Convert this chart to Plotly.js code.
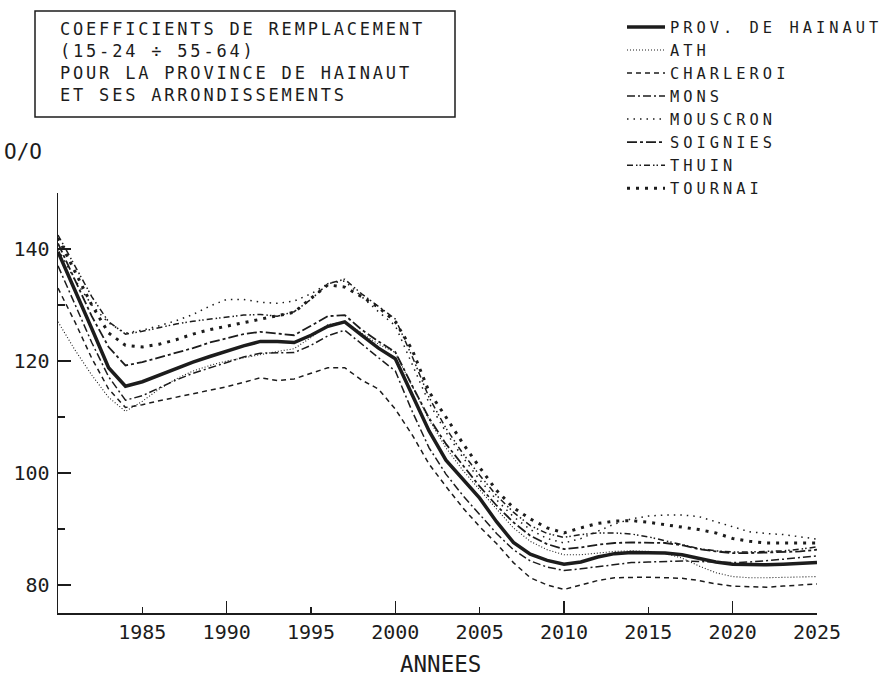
<!DOCTYPE html>
<html>
<head>
<meta charset="utf-8">
<script src="https://cdn.plot.ly/plotly-3.0.1.min.js"></script>
<style>
html,body{margin:0;padding:0;background:#fff;}
#chart{width:889px;height:680px;}
.legendtext{letter-spacing:4px;}
.annotation[data-index="0"] text{letter-spacing:2.8px;}
</style>
</head>
<body>
<div id="chart"></div>
<script>
// ---------- DATA ----------
const YEARS = [1980,1981,1982,1983,1984,1985,1986,1987,1988,1989,
               1990,1991,1992,1993,1994,1995,1996,1997,1998,1999,
               2000,2001,2002,2003,2004,2005,2006,2007,2008,2009,
               2010,2011,2012,2013,2014,2015,2016,2017,2018,2019,
               2020,2021,2022,2023,2024,2025];

const PROV_HAINAUT = [139.5,132.8,125.8,118.8,115.5,116.3,117.5,118.7,119.8,120.8,
                      121.8,122.7,123.5,123.5,123.3,124.6,126.2,127.0,124.6,122.3,
                      120.4,113.8,107.5,102.3,99.0,95.5,91.3,87.6,85.5,84.4,
                      83.7,84.1,85.0,85.6,85.8,85.8,85.7,85.4,84.8,84.1,
                      83.7,83.6,83.6,83.7,83.9,84.0];

const ATH = [127.0,122.0,117.5,113.5,111.0,112.8,115.0,116.8,118.2,119.2,
             120.0,120.6,121.2,121.7,122.2,124.2,126.5,127.0,125.0,123.0,
             121.5,115.5,109.5,104.5,100.5,97.0,93.5,90.2,87.8,86.3,
             85.4,85.4,85.7,86.0,86.1,86.0,85.6,84.8,83.4,82.2,
             81.5,81.3,81.3,81.4,81.5,81.5];

const CHARLEROI = [133.0,127.0,120.5,115.0,111.7,112.2,112.9,113.5,114.2,114.8,
                   115.4,116.2,117.0,116.5,116.8,117.8,118.8,118.8,116.6,115.0,
                   111.4,106.8,101.6,97.6,93.8,90.4,87.4,84.0,81.3,80.0,
                   79.2,80.0,80.8,81.3,81.4,81.4,81.3,81.2,80.8,80.2,
                   79.8,79.7,79.6,79.8,80.0,80.2];

const MONS = [137.0,130.0,123.3,117.2,113.0,113.8,115.2,116.6,117.8,118.8,
              119.8,120.7,121.4,121.4,121.5,122.8,124.5,125.5,123.0,120.6,
              118.2,111.0,104.5,99.8,96.0,92.5,89.2,86.3,84.3,83.2,
              82.6,82.9,83.3,83.7,84.0,84.1,84.2,84.3,84.2,84.1,
              84.0,84.1,84.3,84.6,84.9,85.2];

const MOUSCRON = [140.0,134.5,130.0,126.8,125.0,125.5,126.3,127.2,128.3,129.8,
                  131.0,131.0,130.5,130.3,130.7,132.0,133.8,134.3,131.5,128.8,
                  126.3,119.5,112.5,107.3,102.8,98.8,95.2,92.2,89.9,88.3,
                  87.5,88.3,89.6,90.9,91.8,92.3,92.5,92.5,92.2,91.3,
                  90.3,89.5,89.2,89.0,88.6,88.2];

const SOIGNIES = [141.0,134.5,128.0,122.5,119.2,119.8,120.6,121.4,122.3,123.3,
                  124.1,124.8,125.2,124.9,124.6,126.3,128.0,128.2,125.6,123.5,
                  121.6,115.6,109.8,105.2,101.3,97.6,94.2,91.2,88.8,87.3,
                  86.4,86.7,87.2,87.5,87.6,87.6,87.5,87.1,86.4,86.0,
                  85.7,85.7,85.8,85.9,86.0,86.3];

const THUIN = [142.5,137.0,131.5,127.0,124.8,125.3,126.0,126.6,127.1,127.5,
               127.8,128.2,128.3,128.0,128.8,131.0,133.8,134.6,132.0,129.8,
               127.5,120.8,113.5,108.0,103.5,99.6,96.0,93.0,90.6,89.2,
               88.5,89.0,89.3,89.3,89.1,88.6,87.9,87.1,86.5,86.1,
               85.9,85.9,86.0,86.1,86.4,86.8];

const TOURNAI = [142.0,136.0,130.0,125.0,122.8,122.5,123.0,123.8,124.8,125.6,
                 126.2,126.8,127.4,128.0,128.7,131.2,133.6,133.2,131.5,129.6,
                 127.0,122.0,114.5,110.0,105.3,101.0,96.9,93.8,91.8,90.2,
                 89.3,90.2,91.0,91.4,91.5,91.2,90.8,90.4,89.9,89.3,
                 88.3,87.8,87.5,87.5,87.5,87.5];

const SERIES_NAMES = ['PROV. DE HAINAUT','ATH','CHARLEROI','MONS','MOUSCRON','SOIGNIES','THUIN','TOURNAI'];
const SERIES_VALUES = [PROV_HAINAUT, ATH, CHARLEROI, MONS, MOUSCRON, SOIGNIES, THUIN, TOURNAI];

const X_TICKS = [1985,1990,1995,2000,2005,2010,2015,2020,2025];
const X_TICK_LABELS = ['1985','1990','1995','2000','2005','2010','2015','2020','2025'];
const X_MAJOR_TICKS = [1990,2000,2010,2020];
const Y_TICKS = [80,100,120,140];
const Y_TICK_LABELS = ['80','100','120','140'];
const Y_MINOR_TICKS = [90,110,130,150];

const TITLE_LINES = ['COEFFICIENTS DE REMPLACEMENT','(15-24 ÷ 55-64)','POUR LA PROVINCE DE HAINAUT','ET SES ARRONDISSEMENTS'];
const X_TITLE = 'ANNEES';
const Y_TITLE = 'O/O';

// ---------- STYLE ----------
const INK = '#1c1c1c';
const FONT = 'DejaVu Sans Mono, Liberation Mono, monospace';
const LINE_STYLES = [
  {width:3.5, dash:'solid'},
  {width:1.1, dash:'1px,2px'},
  {width:1.5, dash:'5px,4px'},
  {width:1.5, dash:'8px,3px,2px,3px'},
  {width:1.5, dash:'1.5px,5px'},
  {width:1.8, dash:'10px,3px,3px,3px'},
  {width:1.5, dash:'6px,3px,1.5px,2px,1.5px,3px'},
  {width:3, dash:'3px,6px'}
];

// plot area in pixels
const L = 58, R = 817, T = 193, B = 613;
const px = x => (x - L) / (R - L);
const py = y => (B - y) / (B - T);

const traces = SERIES_NAMES.map((name, i) => ({
  type: 'scatter',
  mode: 'lines',
  name: name,
  x: YEARS,
  y: SERIES_VALUES[i],
  xaxis: i === 0 ? 'x2' : 'x',
  yaxis: 'y',
  line: {color: INK, width: LINE_STYLES[i].width, dash: LINE_STYLES[i].dash},
  hoverinfo: 'skip'
}));

const layout = {
  width: 889, height: 680,
  paper_bgcolor: '#fff', plot_bgcolor: '#fff',
  margin: {l: L, r: 889 - R, t: T, b: 680 - B, autoexpand: false},
  font: {family: FONT, color: INK, size: 20},
  showlegend: true,
  legend: {
    x: px(622), y: py(10.5), xanchor: 'left', yanchor: 'top',
    font: {family: FONT, size: 15.4, color: INK},
    itemwidth: 38, bgcolor: 'rgba(0,0,0,0)', borderwidth: 0,
    traceorder: 'normal'
  },
  xaxis: {
    range: [1980, 2025], tickmode: 'array', tickvals: X_TICKS, ticktext: X_TICK_LABELS,
    ticks: 'inside', ticklen: 6, tickwidth: 1.2, tickcolor: INK,
    showline: true, linecolor: INK, linewidth: 1.5,
    showgrid: false, zeroline: false,
    tickfont: {family: FONT, size: 20, color: INK},
    fixedrange: true
  },
  xaxis2: {
    overlaying: 'x', anchor: 'y', side: 'bottom',
    range: [1980, 2025], tickmode: 'array', tickvals: X_MAJOR_TICKS,
    ticks: 'inside', ticklen: 12, tickwidth: 1.2, tickcolor: INK,
    showticklabels: false, showline: false, showgrid: false, zeroline: false,
    fixedrange: true
  },
  yaxis: {
    range: [75, 150], tickmode: 'array', tickvals: Y_TICKS, ticktext: Y_TICK_LABELS,
    ticks: 'inside', ticklen: 13, tickwidth: 1.2, tickcolor: INK,
    minor: {tickmode: 'array', tickvals: Y_MINOR_TICKS, ticks: 'inside', ticklen: 7, tickwidth: 1.2, tickcolor: INK},
    showline: true, linecolor: INK, linewidth: 1.5,
    showgrid: false, zeroline: false,
    tickfont: {family: FONT, size: 20, color: INK},
    ticklabelstandoff: 3,
    fixedrange: true
  },
  annotations: [{
    text: TITLE_LINES.join('<br>'),
    xref: 'paper', yref: 'paper',
    x: px(58), y: py(62),
    xanchor: 'left', yanchor: 'middle', align: 'left',
    showarrow: false,
    font: {family: FONT, size: 17, color: INK}
  }, {
    text: Y_TITLE, xref: 'paper', yref: 'paper',
    x: px(23), y: py(152), xanchor: 'center', yanchor: 'middle',
    showarrow: false, font: {family: FONT, size: 21, color: INK}
  }, {
    text: X_TITLE, xref: 'paper', yref: 'paper',
    x: px(440), y: py(664), xanchor: 'center', yanchor: 'middle',
    showarrow: false, borderpad: 0, borderwidth: 0,
    font: {family: FONT, size: 22.5, color: INK}
  }],
  shapes: [{
    type: 'rect', xref: 'paper', yref: 'paper',
    x0: px(35), x1: px(455), y0: py(117), y1: py(11),
    line: {color: INK, width: 1.5}, fillcolor: 'rgba(0,0,0,0)'
  }]
};

Plotly.newPlot('chart', traces, layout, {displayModeBar: false, staticPlot: true});
</script>
</body>
</html>
